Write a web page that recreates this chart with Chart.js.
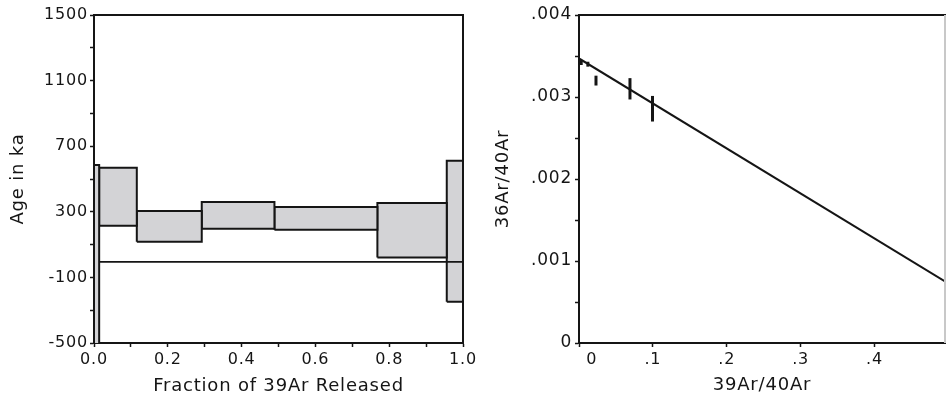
<!DOCTYPE html>
<html>
<head>
<meta charset="UTF-8">
<title>40Ar/39Ar age spectrum and isochron</title>
<script src="https://cdn.jsdelivr.net/npm/chart.js"></script>
<style>
  body { margin: 0; background: #fff; }
  .wrap { position: relative; width: 947px; height: 404px; overflow: hidden; }
  #spectrumChart { position: absolute; left: 0; top: 0; }
  #isochronChart { position: absolute; left: 480px; top: 0; }
</style>
</head>
<body>
<div class="wrap">
  <canvas id="spectrumChart" width="480" height="404"></canvas>
  <canvas id="isochronChart" width="467" height="404"></canvas>
</div>
<script>
// age spectrum: cumulative 39Ar fraction at start/end of each step, age range in ka
const stepStart = [0.000, 0.014, 0.116, 0.292, 0.489, 0.768, 0.956];
const stepEnd   = [0.014, 0.116, 0.292, 0.489, 0.768, 0.956, 1.000];
const ageHigh   = [585, 569, 305, 360, 329, 354, 612];
const ageLow    = [-700, 215, 118, 197, 191, 22, -248];
const refLineX   = [0.014, 1.0];
const refLineAge = [-5, -5];

// inverse isochron: 39Ar/40Ar vs 36Ar/40Ar with 1-sigma errors
const ratio39    = [0.003, 0.012, 0.023, 0.069, 0.0995];
const ratio36    = [0.00342, 0.00340, 0.00320, 0.00310, 0.002857];
const ratio36Err = [0.00003, 0.00003, 0.00006, 0.00013, 0.000156];
const fitX = [0, 0.4955];
const fitY = [0.00347, 0.00075];

const INK = '#151515';
Chart.defaults.font.family = 'DejaVu Sans';
Chart.defaults.color = INK;
Chart.defaults.animation = false;
Chart.defaults.events = [];

// slightly wider text, like the original plotting package
const spacing = {
  id: 'spacing',
  beforeUpdate(chart) { chart.ctx.letterSpacing = '0.8px'; },
  beforeDraw(chart) { chart.ctx.letterSpacing = '0.8px'; }
};

// top and right edges of the plot box
const frame = {
  id: 'frame',
  afterDatasetsDraw(chart, args, opts) {
    const { ctx, chartArea: a } = chart;
    ctx.save();
    ctx.lineWidth = 2;
    ctx.strokeStyle = opts.top;
    ctx.beginPath(); ctx.moveTo(a.left, a.top); ctx.lineTo(a.right + 1, a.top); ctx.stroke();
    ctx.strokeStyle = opts.right;
    ctx.beginPath(); ctx.moveTo(a.right, a.top); ctx.lineTo(a.right, a.bottom); ctx.stroke();
    ctx.restore();
  }
};

const tickFont = { size: 16 };
const titleFont = { size: 18 };
const axisGrid = { drawOnChartArea: false, tickLength: 4, tickColor: INK, tickWidth: 1.5 };
const axisBorder = { color: INK, width: 2 };

// one closed rectangle per heating step
const stepSets = stepStart.map((s, i) => ({
  data: [
    { x: s, y: ageLow[i] }, { x: s, y: ageHigh[i] },
    { x: stepEnd[i], y: ageHigh[i] }, { x: stepEnd[i], y: ageLow[i] },
    { x: s, y: ageLow[i] }
  ],
  showLine: true,
  fill: 'shape',
  backgroundColor: '#d3d3d6',
  borderColor: INK,
  borderWidth: 2,
  borderJoinStyle: 'miter',
  pointRadius: 0,
  tension: 0,
  order: 1
}));

new Chart(document.getElementById('spectrumChart'), {
  type: 'scatter',
  data: {
    datasets: [
      ...stepSets,
      {
        // drawn over the boxes
        data: refLineX.map((x, i) => ({ x, y: refLineAge[i] })),
        showLine: true,
        borderColor: INK,
        borderWidth: 1.8,
        pointRadius: 0,
        order: 0
      }
    ]
  },
  options: {
    responsive: false,
    devicePixelRatio: 1,
    layout: { padding: { top: 15, right: 17, left: 0, bottom: 0 } },
    plugins: {
      legend: { display: false },
      tooltip: { enabled: false },
      frame: { top: INK, right: INK }
    },
    scales: {
      x: {
        type: 'linear', min: 0, max: 1,
        ticks: {
          stepSize: 0.1, autoSkip: false, maxRotation: 0, font: tickFont, padding: 3,
          callback: v => (Math.round(v * 10) % 2 === 0 ? v.toFixed(1) : '')
        },
        grid: axisGrid,
        border: axisBorder,
        title: { display: true, text: 'Fraction of 39Ar Released', font: titleFont, padding: { top: 0, bottom: 7 } },
        afterFit(s) { s.height = 61; }
      },
      y: {
        type: 'linear', min: -500, max: 1500,
        ticks: {
          stepSize: 200, autoSkip: false, font: tickFont, padding: 2,
          callback: v => ((v + 500) % 400 === 0 ? String(v) : '')
        },
        grid: axisGrid,
        border: axisBorder,
        title: { display: true, text: 'Age in ka', font: titleFont, padding: { top: 8, bottom: 0 } },
        afterFit(s) { s.width = 94; }
      }
    }
  },
  plugins: [spacing, frame]
});

// isochron: fitted line and error bars
const errorSets = ratio39.map((x, i) => ({
  data: [{ x, y: ratio36[i] - ratio36Err[i] }, { x, y: ratio36[i] + ratio36Err[i] }],
  showLine: true,
  borderColor: INK,
  borderWidth: 3,
  pointRadius: 0
}));

new Chart(document.getElementById('isochronChart'), {
  type: 'scatter',
  data: {
    datasets: [
      {
        data: fitX.map((x, i) => ({ x, y: fitY[i] })),
        showLine: true,
        borderColor: INK,
        borderWidth: 2,
        pointRadius: 0
      },
      ...errorSets
    ]
  },
  options: {
    responsive: false,
    devicePixelRatio: 1,
    layout: { padding: { top: 15, right: 2, left: 0, bottom: 0 } },
    plugins: {
      legend: { display: false },
      tooltip: { enabled: false },
      frame: { top: INK, right: '#c8c8c8' }
    },
    scales: {
      x: {
        type: 'linear', min: 0, max: fitX[1],
        ticks: {
          stepSize: 0.1, autoSkip: false, includeBounds: false, maxRotation: 0, font: tickFont, padding: 3,
          callback: v => (v === 0 ? '\u2003\u20020' : String(Math.round(v * 10) / 10).replace(/^0/, ''))
        },
        grid: axisGrid,
        border: axisBorder,
        title: { display: true, text: '39Ar/40Ar', font: titleFont, padding: { top: 0, bottom: 8 } },
        afterFit(s) { s.height = 61; }
      },
      y: {
        type: 'linear', min: 0, max: 0.004,
        ticks: {
          stepSize: 0.0005, autoSkip: false, font: { size: 17 }, padding: 3,
          callback: v => {
            const k = Math.round(v / 0.0005);
            if (k % 2) return '';
            return k === 0 ? '0' : '.00' + (k / 2);
          }
        },
        grid: axisGrid,
        border: axisBorder,
        title: { display: true, text: '36Ar/40Ar', font: titleFont, padding: { top: 13, bottom: 0 } },
        afterFit(s) { s.width = 99; }
      }
    }
  },
  plugins: [spacing, frame]
});
</script>
</body>
</html>
